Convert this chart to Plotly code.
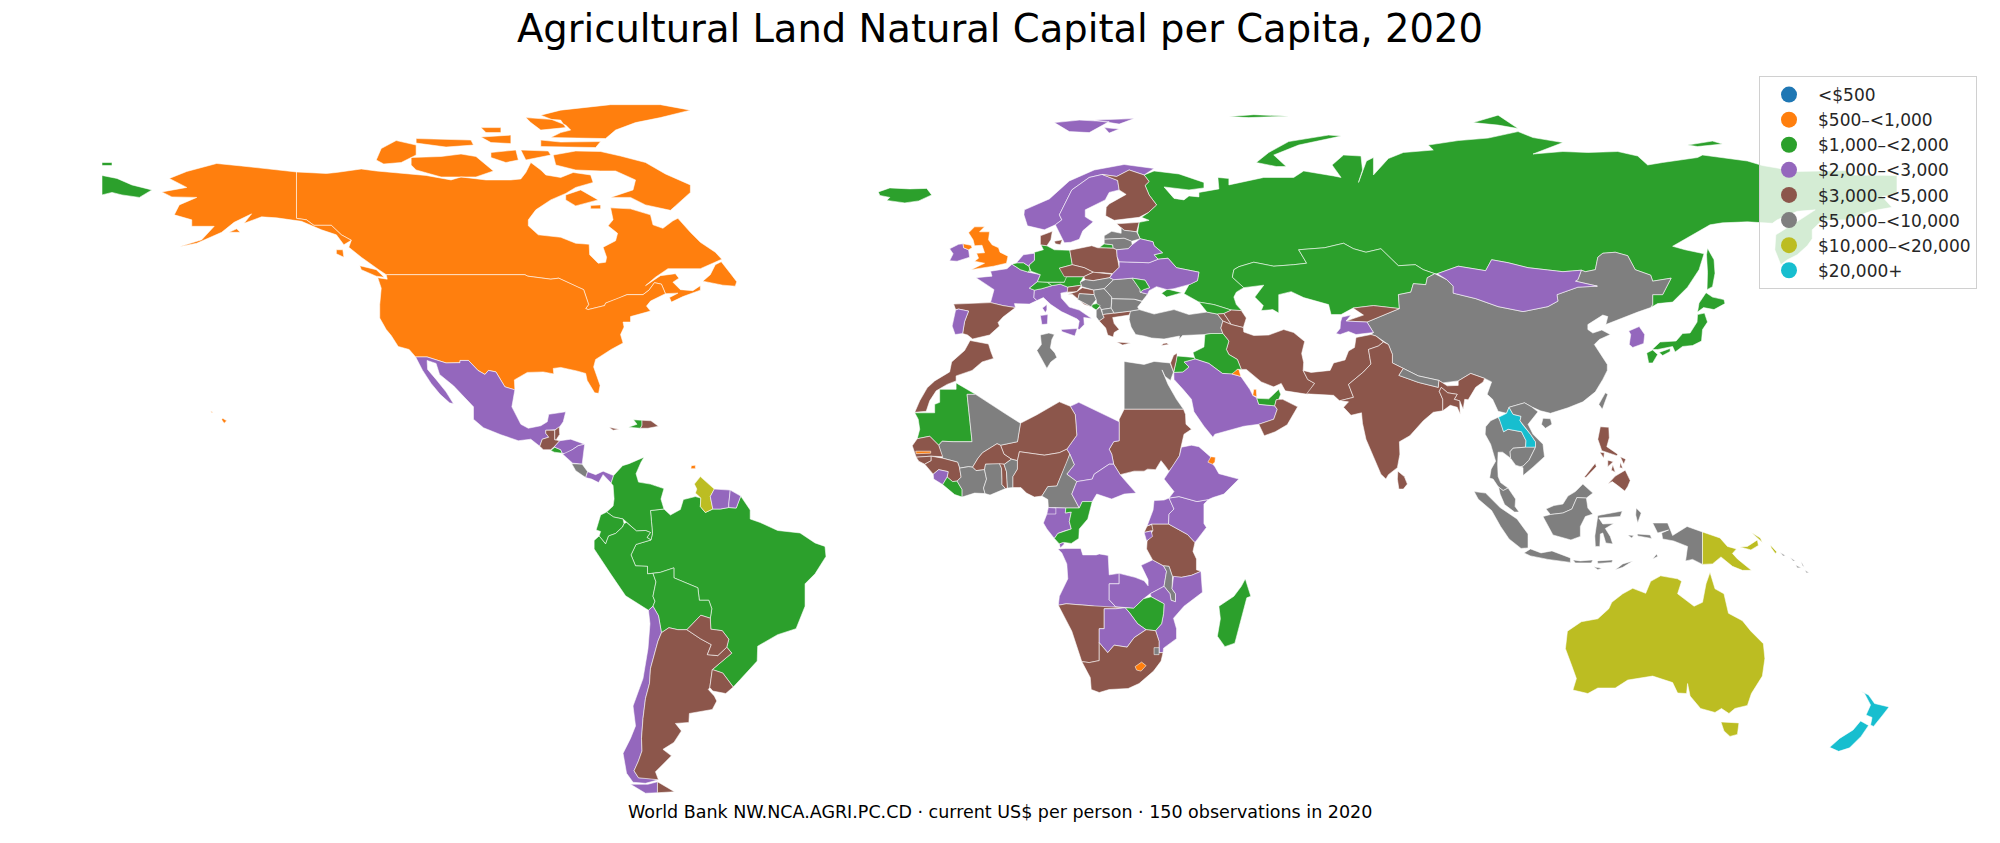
import plotly.graph_objects as go

title = "Agricultural Land Natural Capital per Capita, 2020"
source = "World Bank NW.NCA.AGRI.PC.CD · current US$ per person · 150 observations in 2020"

bin_labels = ["<$500", "$500–<1,000", "$1,000–<2,000", "$2,000–<3,000", "$3,000–<5,000",
              "$5,000–<10,000", "$10,000–<20,000", "$20,000+"]
bin_colors = ["#1f77b4", "#ff7f0e", "#2ca02c", "#9467bd", "#8c564b", "#7f7f7f", "#bcbd22", "#17becf"]

# which band each country falls in
bin_members = {
    "<$500": [],
    "$500–<1,000": ["USA", "CAN", "GBR", "QAT", "KWT", "DJI", "LSO", "GMB", "TTO"],
    "$1,000–<2,000": ["RUS", "KAZ", "BRA", "COL", "ECU", "PER", "BOL", "MRT", "LBR", "COG", "ZWE", "MDG",
                      "JPN", "ISL", "DEU", "BEL", "LUX", "CHE", "AUT", "MDA", "MNE", "GEO", "IRQ", "JOR",
                      "ARE", "SLV", "HTI"],
    "$2,000–<3,000": ["MEX", "HND", "NIC", "PAN", "SUR", "GUF", "CHL", "FRA", "ITA", "NLD", "IRL", "PRT",
                      "NOR", "SWE", "BLR", "UKR", "SAU", "TJK", "MNG", "KOR", "TCD", "CAF", "GAB", "GNQ",
                      "SLE", "ETH", "UGA", "KEN", "BDI", "AGO", "ZMB", "MOZ", "BWA"],
    "$3,000–<5,000": ["GTM", "BLZ", "JAM", "DOM", "ARG", "PRY", "URY", "ESP", "DNK", "FIN", "EST", "POL",
                      "CZE", "SVK", "SVN", "HRV", "GRC", "CYP", "MAR", "SEN", "GNB", "GIN", "BFA", "TGO",
                      "NGA", "NER", "SDN", "RWA", "TZA", "NAM", "ZAF", "ISR", "ARM", "AZE", "IRN", "OMN",
                      "KGZ", "PAK", "IND", "BGD", "LKA", "PHL"],
    "$5,000–<10,000": ["CRI", "LVA", "LTU", "HUN", "ROU", "BGR", "SRB", "BIH", "ALB", "MKD", "TUR", "TUN",
                       "EGY", "MLI", "CIV", "GHA", "BEN", "CMR", "MWI", "SWZ", "CHN", "TWN", "NPL", "THA",
                       "KHM", "VNM", "MYS", "IDN", "SLB"],
    "$10,000–<20,000": ["GUY", "AUS", "PNG"],
    "$20,000+": ["NZL", "LAO"],
}

# country outlines as "lon,lat lon,lat ..." rings, traced by eye; big neighbours first, enclaves last
outlines = {
    "RUS": ["31,69.8 33,69.5 36,69.2 41,67.5 41,66.4 38,66 33,66.6 35,64.3 37,64 38,64.8 40,64.6 40,65.5 44,66.2 43.8,68.5 46,68.3 46,67 53,68.5 59,68.5 61,69.8 67,68.8 68.5,68.5 66.7,71 69,73 72.5,72.8 72.8,70 72,67.5 73.6,71.8 75,72.5 75,69 78,72.3 81,73.5 87,74 86,75 92,75.9 98,76.4 104,77.7 107,76.5 113,75.5 107,73.2 113,73.7 118,73.5 124,73.7 128,72.8 130,71 133,71.5 140,72.5 141,73 150,71.8 153,70.9 160,69.7 170,69.9 171,69 180,68.9 180,65 177,64.7 179,62.5 175,61.8 170,60 165,59.9 163,58 163,56.2 162,54.8 160,53 158,52 156.7,51 155.5,54 155.7,57 161,60.3 163.6,62 160,61.7 156,60 155,59.3 150,59.6 145,59.4 142.5,59 135,54.7 137.5,54 141.3,53.2 140.3,50 138,46.5 135,43.5 132,43.2 131,42.6 130.6,42.4 131,43 131,45 133,45 134.7,48.3 131,47.7 130.6,48.9 127.5,50 126,52.8 123.5,53.5 121,53.3 120,52.5 119.5,50 117.5,49.6 116.7,49.9 113,49.6 106,50.4 102,51.4 98.7,52 97.5,49.8 92,50.7 87.8,49.2 87.3,49.2 85,50 83.4,51 80,50.8 77.8,53 76.5,54.2 73.5,53.5 71,54.2 69,55.3 65.2,54.4 60,54 60.9,52.5 61.6,51.3 59,51 55,50.7 51,51.5 48,50.6 47,50 46.7,48.5 49,46.4 47.5,45.5 47,44.5 47.5,43 48.6,41.8 46.5,41.9 43,43 40,43.5 37,45.2 38,47 39.7,47.8 40,49.5 35.5,50.4 33.8,52.3 31.8,52.1 31,53 32.7,53.4 31,54.8 30.8,55.6 28.2,56.2 27.7,57.4 28,59.5 30,59.9 28.5,60.5 29.9,61.5 31.5,63 30,65 29.2,66.9 30,67.7 29,69",
            "-180,68.9 -177,68.3 -174,67 -170,66 -172.5,64.5 -176,65 -178,65.5 -180,65",
            "-180,71.5 -178,71.5 -178,70.9 -180,70.9",
            "142,54.3 143.3,52 143.5,49.3 143,46.6 141.9,46 142,49.5 141.8,53",
            "51.5,71.5 55.5,70.7 57.5,70.7 55,73 60,75 68.5,76.8 66,77 58,75.7 54,73.5",
            "95,79.5 100,79 104,78.3 100,81",
            "46,80.7 51,81.1 58,80.8 50,80.5",
            "138,75 143,75.8 145,75.2 140,74.7",
            "20,54.4 22.8,54.3 22.7,55 21,55.2",
            "32.5,45.3 33.7,46.1 36.6,45.4 35,44.9 33.5,44.5"],
    "KAZ": ["47,50 48,50.6 51,51.5 55,50.7 59,51 61.6,51.3 60.9,52.5 60,54 65.2,54.4 69,55.3 71,54.2 73.5,53.5 76.5,54.2 77.8,53 80,50.8 83.4,51 85,50 87.3,49.2 85.8,48.4 85.5,47 83,47.2 82.5,45.5 80,45 80.2,42.2 75,42.8 70.9,42.3 68.5,41 66.5,41 66,43 61,44.4 58.5,45.6 56,45 56,41.3 54.8,42 52.5,41.8 52.9,42.8 51.2,44.5 53,46.9 49,46.4 46.7,48.5"],
    "CHN": ["73.7,39.5 76,40.4 80.2,42.2 80,45 82.5,45.5 83,47.2 85.5,47 85.8,48.4 87.3,49.2 89.7,48 91,46.7 91,45.3 95.5,44.2 100,42.6 105,41.6 110,42.6 112,43.7 111.8,45 116,46.5 119.9,46.7 115.5,47.7 116,48 116.7,49.9 117.5,49.6 119.5,50 120,52.5 121,53.3 123.5,53.5 126,52.8 127.5,50 130.6,48.9 131,47.7 134.7,48.3 133,45 131,45 131,43 130.6,42.4 128,41.5 124.3,40 121.6,39 122,40.6 121,40.9 118,39 118,38 119,37.3 120.8,37.9 122.5,37 120.3,36 119.3,35 120.8,32.6 121.9,31 121.9,29.8 121,28 119.5,25.5 117,23.5 114,22.3 110.5,21.2 108.5,21.7 106.7,22.5 105.3,23.3 102.2,22.4 101.7,21.2 100,21.6 98.9,24 97.8,25 98.7,27.5 97.3,28.2 94.5,29.2 92,27.7 88.9,27.3 88.1,27.8 84,28.7 81,30.2 78.8,31.3 78.8,33 78,35 75.5,36.7 74.5,37 75,37.4",
            "109,20.2 110.5,20.1 110.8,19 109.5,18.2 108.7,19"],
    "MNG": ["87.8,49.2 92,50.7 97.5,49.8 98.7,52 102,51.4 106,50.4 113,49.6 116.7,49.9 116,48 115.5,47.7 119.9,46.7 116,46.5 111.8,45 112,43.7 110,42.6 105,41.6 100,42.6 95.5,44.2 91,45.3 91,46.7 89.7,48"],
    "CAN": ["-141,69.6 -135,69.3 -133,69.5 -128,70.2 -125,69.8 -120,69.4 -115,68.9 -110,68 -108,68.6 -103,68 -98,68 -96,68.2 -95,69.5 -94,71.5 -92,70 -91,69 -88,68.5 -85.5,69.5 -82,69 -81.5,67.5 -85,66.5 -87,65.3 -90,64 -93,62 -94.5,60 -94.5,58.8 -92.5,57 -88,56.5 -85,55.3 -82.3,55.1 -82.2,53 -80.5,51.3 -79,51.5 -78.8,52.5 -79.5,54.5 -77,55.8 -76.6,57.3 -78.5,58.8 -77.5,60 -78,62.4 -74,62.2 -70,61 -69.5,59 -67.5,58.3 -65.5,59.8 -64.5,60.3 -62,57.5 -60,55.5 -57,53.5 -55.7,52.1 -60,50.2 -66.5,50.2 -69,48.5 -71,46.8 -68,48.8 -65,49.2 -64.3,48.3 -65.5,47.5 -64,46 -61.5,45.8 -60,46.8 -60,45.9 -63.5,44.6 -65.8,43.5 -66.2,44.4 -64.5,45.3 -67,45.2 -67.8,47.1 -69.2,47.4 -70.3,45.9 -71.5,45 -74.7,45 -76.5,44.2 -79,43.3 -79.2,42.8 -82.5,42 -83,42.2 -82.4,43 -83.4,46 -84.6,46.5 -88.4,48.3 -90,48.1 -94.6,48.7 -95.2,49 -123,49 -124.5,50 -128,52.5 -130.5,54.5 -130,55.9 -132,57 -134,58.9 -137.5,58.9 -139,60 -141,60.3",
            "-80,73.7 -76,72.8 -71,71.5 -67,69.2 -62,67 -62,65.5 -65,62.8 -66,61.9 -71,63 -74,64.5 -78,64.5 -73.5,66 -73,68 -77,69.8 -80,69.8 -85,70 -89,71 -89.5,73 -85,73.8",
            "-117,70 -112,68.6 -105,68.6 -101.5,69.8 -105,72.7 -108,73.2 -112,72.7 -118,72.5 -118,71",
            "-125,72 -123.5,71.2 -120,71.5 -117,73 -117,75 -121,75.9 -124,74.3",
            "-90,76.5 -79,76.3 -77,78 -73,79.5 -68,80.5 -62,82 -68,83.1 -78,83.1 -88,82 -92,81 -87,79 -86,78 -88,77.5",
            "-92,76 -92,74.7 -81,74.5 -80,75.7 -88,75.6",
            "-95,80.5 -88,80 -87,78.5 -92,78 -94,79.5",
            "-117,76.3 -106,76 -105.5,75 -111,74.6 -117,75.4",
            "-96,74 -90.5,73.8 -90,73 -95,72",
            "-102,73.5 -97,74 -96.5,72 -99,71.5 -102,72.5",
            "-104,76.6 -98,77 -98,75.3 -102,75.5",
            "-104,78.5 -100,78.5 -100,77.5 -103,77.5",
            "-87,65 -84,66 -80.5,64 -85,62.8 -87,64",
            "-59.5,47.7 -55.5,46.9 -53,46.7 -52.7,47.6 -54,49.3 -55.8,51.6 -57,51 -58,49",
            "-128.3,50.8 -125,50 -123.4,48.5 -125,48.7 -128,50",
            "-133,54 -131.7,54 -131.5,52.5 -133,53.2",
            "-82,62.9 -80,63 -80,62.2 -82,62.2"],
    "USA": ["-123,49 -95.2,49 -94.6,48.7 -90,48.1 -88.4,48.3 -84.6,46.5 -83.4,46 -82.4,43 -83,42.2 -82.5,42 -79.2,42.8 -79,43.3 -76.5,44.2 -74.7,45 -71.5,45 -70.3,45.9 -69.2,47.4 -67.8,47.1 -67,45.2 -70,43.7 -70.8,42.7 -70,41.7 -74,40.6 -74,39.5 -75.5,39.5 -75.3,38.5 -76,37 -75.5,35.3 -77.9,34 -81,32 -81.4,30.5 -80.1,26.8 -80.4,25.2 -81.2,25.3 -82.7,27.8 -83,29.2 -84.8,29.7 -88,30.4 -89.5,30.2 -89.4,29.1 -91.5,29.5 -94.7,29.4 -97.3,27.9 -97.2,25.9 -99.2,26.5 -101,29.5 -102.5,29.8 -103.2,29 -104.6,29.8 -106.5,31.8 -108.2,31.8 -108.2,31.35 -111,31.3 -114.8,32.5 -117.1,32.5 -118.4,34 -120.6,34.6 -122,36.8 -123,38 -124.3,40.3 -124.3,43 -124,46.3 -124.7,48.4 -122.8,48.1",
            "-141,69.6 -141,60.3 -139,60 -137.5,58.9 -134,58.9 -132,57 -130,55.9 -131.5,55 -133,57 -136,58 -140,59.7 -145,60.4 -148,60.6 -151.5,59.3 -150,61.2 -153.5,59.5 -156,57.5 -161,55.3 -164.5,54.6 -160,56 -157.5,58.7 -162,58.7 -162,60 -165.5,61 -164.5,63 -161,64.5 -166,64.6 -168,65.6 -163,66.5 -166.5,68.3 -163,69.7 -157,71.3 -152,70.8 -145,70",
            "-154.5,57.5 -152.3,57.5 -153,58.2",
            "-156,19.9 -155.5,19.2 -155,19.7 -155.8,20.2",
            "-158.2,21.6 -157.7,21.4 -158,21.3"],
    "MEX": ["-117.1,32.5 -114.8,32.5 -111,31.3 -108.2,31.35 -108.2,31.8 -106.5,31.8 -104.6,29.8 -103.2,29 -102.5,29.8 -101,29.5 -99.2,26.5 -97.2,25.9 -97.8,22.5 -96,19 -94.5,18.2 -92,18.7 -90.7,19.5 -90.4,21 -87,21.5 -87.5,19.5 -88.2,18.5 -89.1,17.9 -91,17.8 -91,17.2 -90.4,16.4 -91.7,16 -92.2,14.6 -94,16 -96.5,15.7 -100,16.9 -103.5,18.3 -105.5,20 -105.5,22.5 -108,25 -109.5,26.7 -112.3,29 -113,31.2 -114.8,31.8 -114.7,30 -113,28 -111,25.5 -109.5,23.1 -110.3,23.3 -112.2,25 -114,27.2 -115.7,29.8"],
    "GTM": ["-92.2,14.6 -91.7,16 -90.4,16.4 -91,17.2 -91,17.8 -89.2,17.8 -89.2,15.9 -88.2,15.7 -89.2,14.6 -90,13.9 -91.5,13.9"],
    "BLZ": ["-89.2,17.8 -88.3,18.5 -88.2,17 -88.9,15.9 -89.2,15.9"],
    "SLV": ["-90,13.75 -89.2,14.4 -88,13.9 -87.7,13.2 -89.3,13.4"],
    "HND": ["-89.2,14.6 -88.2,15.7 -86,16 -83.2,15 -84.5,14.7 -85.7,13.9 -87,13 -87.7,13.2 -88,13.9 -89.2,14.4"],
    "NIC": ["-87.6,13 -85.7,13.9 -84.5,14.7 -83.2,15 -83.7,11 -85.6,11.2"],
    "CRI": ["-85.8,11.1 -83.7,11 -82.6,9.5 -83,8.3 -85,9.7"],
    "PAN": ["-83,8.3 -82.6,9.5 -81,8.9 -79.5,9.6 -77.4,8.7 -77.9,7.2 -79.5,8.9 -80.4,7.3 -81.8,8"],
    "HTI": ["-74.4,18.4 -72,18.2 -71.7,18.8 -71.7,19.8 -73.4,19.9 -72.7,19"],
    "DOM": ["-71.7,19.8 -71.7,18.8 -72,18.2 -70.5,18.2 -68.4,18.6 -69.9,19.7"],
    "JAM": ["-78.3,18.4 -76.3,18 -77.5,17.8"],
    "TTO": ["-61.9,10.1 -61,10.1 -61,10.8 -61.8,10.7"],
    "BRA": ["-51.9,4.6 -50,1.8 -50,0 -48,-0.7 -44.5,-2.3 -40,-2.8 -37,-4.8 -35,-5.5 -34.8,-7.5 -37,-11 -39,-13 -39,-17.5 -40.8,-22 -44.5,-23.2 -48.5,-25.5 -48.6,-28.5 -52,-32.2 -53.4,-33.7 -55.5,-30.9 -57.6,-30.2 -53.7,-26.9 -54.7,-25.7 -54.3,-24.1 -55.6,-22.4 -57.9,-22.1 -58,-19.9 -57.7,-18 -58.3,-16.3 -60.2,-16.3 -60.5,-13.8 -65.3,-11.8 -65.3,-9.8 -68,-10.7 -69.5,-10.9 -70.6,-11 -70.6,-9.5 -73,-9.4 -73.9,-7.2 -72.9,-5.1 -69.9,-4.2 -69.6,-2.9 -69.8,-0.5 -70,1.7 -67.3,2 -66,0.8 -64,1.9 -63.4,3.9 -61,4.5 -59.9,4.2 -60,2.5 -59,1.3 -57.5,2 -56,2 -54.3,2.3 -52.8,2.2"],
    "COL": ["-77.4,8.7 -75.6,10.7 -74.3,11.1 -71.3,12.4 -71.9,11.4 -72.9,9.1 -72.4,7.4 -70,7 -67.3,6.1 -67.9,4 -67.3,2 -70,1.7 -69.8,-0.5 -69.6,-2.9 -69.9,-4.2 -70.7,-3.7 -70,-2.7 -71,-2.3 -72.8,-2.4 -74.8,-0.7 -75.5,0 -77.4,0.4 -78.8,1.4 -77.5,2.6 -77.3,4 -77.5,6.7 -77.9,7.2"],
    "ECU": ["-78.8,1.4 -77.4,0.4 -75.5,0 -75.3,-0.9 -75.6,-1.6 -77,-2.9 -78.4,-3.4 -79,-5 -80.3,-3.4 -80,-2.5 -80.9,-2.2 -80,0.8"],
    "PER": ["-80.3,-3.4 -79,-5 -78.4,-3.4 -77,-2.9 -75.6,-1.6 -75.3,-0.9 -74.8,-0.7 -72.8,-2.4 -71,-2.3 -70,-2.7 -70.7,-3.7 -69.9,-4.2 -72.9,-5.1 -73.9,-7.2 -73,-9.4 -70.6,-9.5 -70.6,-11 -69.5,-10.9 -68.9,-12.6 -69.5,-15.5 -69.1,-16.5 -69.5,-17.5 -70.4,-18.3 -75,-15.4 -78,-11 -81.3,-6 -81.3,-4.3"],
    "BOL": ["-69.5,-10.9 -68,-10.7 -65.3,-9.8 -65.3,-11.8 -60.5,-13.8 -60.2,-16.3 -58.3,-16.3 -57.7,-18 -58,-19.9 -59.9,-19.3 -62.7,-22.2 -64.5,-22.2 -66.3,-21.8 -67.8,-22.8 -68.4,-19.4 -69.5,-17.5 -69.1,-16.5 -69.5,-15.5 -68.9,-12.6"],
    "CHL": ["-69.5,-17.5 -68.4,-19.4 -67.8,-22.8 -68.5,-24.5 -70,-30 -70.2,-33 -71,-36 -71.5,-40 -71.8,-44 -71.7,-46.5 -72.4,-48.5 -73.3,-50.5 -72.4,-51.9 -70,-52 -68.4,-52.3 -71,-53 -73.5,-52.8 -74.8,-51 -75.5,-47 -74,-44 -73,-41.5 -73.5,-37.5 -71.5,-32 -70.5,-26 -70.1,-21 -70.4,-18.3",
            "-68.6,-52.7 -68.6,-54.9 -71,-55 -74,-53.2 -70.5,-53.2"],
    "ARG": ["-66.3,-21.8 -64.5,-22.2 -62.7,-22.2 -60,-24 -57.8,-25.2 -58.6,-27.2 -56.5,-27.4 -54.7,-25.7 -53.7,-26.9 -57.6,-30.2 -58.1,-33.8 -58.4,-34.2 -57.2,-35.5 -56.7,-36.5 -57.6,-38.2 -62.2,-39 -62.3,-40.8 -65,-41 -63.8,-42.5 -65.3,-44.8 -67.5,-46.2 -65.8,-47.5 -69,-50.7 -68.4,-52.3 -72.4,-51.9 -73.3,-50.5 -72.4,-48.5 -71.7,-46.5 -71.8,-44 -71.5,-40 -71,-36 -70.2,-33 -70,-30 -68.5,-24.5 -67.8,-22.8",
            "-68.6,-52.7 -65.2,-54.7 -68.6,-54.9"],
    "PRY": ["-62.7,-22.2 -59.9,-19.3 -58,-19.9 -57.9,-22.1 -55.6,-22.4 -54.3,-24.1 -54.7,-25.7 -56.5,-27.4 -58.6,-27.2 -57.8,-25.2 -60,-24"],
    "URY": ["-58.1,-33.8 -57.6,-30.2 -55.5,-30.9 -53.4,-33.7 -54.9,-35 -57.5,-34.5"],
    "GUY": ["-60,8.5 -57.2,6 -58,4.5 -57.5,2 -59,1.3 -60,2.5 -59.9,4.2 -61,5.2 -60.7,6 -61.2,7"],
    "SUR": ["-57.2,6 -54,5.8 -54.3,3 -54.3,2.3 -56,2 -57.5,2 -58,4.5"],
    "GUF": ["-54,5.8 -51.9,4.6 -52.8,2.2 -54.3,2.3 -54.3,3"],
    "MAR": ["-5.9,35.8 -2.2,35.1 -1.7,33.5 -1.2,32.2 -3.5,31.5 -5.5,29.8 -8.7,28.7 -8.7,27.7 -10.5,27 -12.7,25.7 -14,23.7 -14.7,21.6 -17,21.4 -16,23.7 -14.5,26.3 -13,27.7 -10,29.5 -9.6,31.5 -7,33.8"],
    "MRT": ["-8.7,27.3 -4.8,25 -6.5,25 -5.5,15.5 -9.3,15.5 -11.5,15.6 -12.2,14.8 -14,16.6 -16.5,16.1 -16,18 -16.3,20 -17,21.3 -13,21.3 -13,23 -12,23.4 -12,26 -8.7,26"],
    "TUN": ["8.2,36.9 9.9,37.3 11,37 10.5,36 10.2,34.3 11.1,33.3 11.5,32.4 10.3,31.5 9.5,30.2 7.5,33.8 8.4,35"],
    "EGY": ["25,31.6 29,31 31,31.6 34.2,31.3 34.9,29.5 34.3,27.8 33.2,28.6 32.6,29.9 33.8,27 35.5,24 36.9,22 31.4,22 25,22"],
    "SDN": ["25,22 36.9,22 37.3,21 37.4,19 38.5,18 37,17 36.4,14.4 36.1,12.7 34.9,10.8 34,9.6 33.2,10.7 32.4,11.7 31.3,9.9 29.7,10 29,9.6 27,9.6 24.2,8.9 23.5,10.1 22.9,11 22.5,13 22,14 22.9,15.5 24,15.7 24,20"],
    "TCD": ["24,19.5 15.9,23.4 14.2,22.6 15.2,20.9 15.5,16.8 13.5,14 14.1,13 15,10.9 13.5,9 15.5,7.5 18.6,8 19,9 22,11 22.9,11 22.5,13 22,14 22.9,15.5 24,15.7"],
    "NER": ["3.6,15.5 4.2,19.2 7.5,20.9 12,23.5 14.2,22.6 15.2,20.9 15.5,16.8 13.5,14 12,13.3 9,12.8 6.8,13.1 4,13.5 3.6,11.7 2.4,12 0.9,13 0.2,14.8"],
    "MLI": ["-12.2,14.8 -11.5,15.6 -9.3,15.5 -5.5,15.5 -6.5,25 -4.8,25 1.2,21.1 3.2,19.8 4.2,19.2 3.6,15.5 0.2,14.8 -0.5,15.1 -2,14.2 -3.4,13.3 -4.3,12.2 -5.4,10.4 -6.2,10.5 -8,10.2 -8.4,11.4 -11.4,12.2"],
    "BFA": ["-5.4,10.4 -4.3,12.2 -3.4,13.3 -2,14.2 -0.5,15.1 0.2,14.8 0.9,13 2.4,12 1,11 -2.8,11 -3,9.9 -4.7,9.7"],
    "SEN": ["-16.5,16.1 -14,16.6 -12.2,14.8 -11.4,12.5 -13.7,12.6 -16.7,12.4 -17.5,14.7"],
    "GNB": ["-16.7,12.4 -13.7,12.6 -13.7,11.7 -15,11 -16.2,11.6"],
    "GIN": ["-13.7,12.6 -11.4,12.2 -8.4,11.4 -8,10.2 -7.7,8.4 -8.5,7.6 -9.4,7.5 -10.5,8.4 -10.3,9.5 -12.2,9.9 -13.3,9 -15,11 -13.7,11.7"],
    "SLE": ["-13.3,9 -12.2,9.9 -10.3,9.5 -10.5,8.4 -11.4,6.9 -13.2,8"],
    "LBR": ["-11.4,6.9 -10.5,8.4 -9.4,7.5 -8.5,7.6 -7.5,5.9 -7.5,4.4 -9,4.9"],
    "CIV": ["-8.5,7.6 -7.7,8.4 -8,10.2 -6.2,10.5 -5.4,10.4 -4.7,9.7 -3,9.9 -2.6,8 -3.2,6.2 -2.9,5.1 -5,5.2 -7.5,4.4 -7.5,5.9"],
    "GHA": ["-3,9.9 -2.8,11 0,11.1 0.4,10.2 0.5,8 0.5,6.9 1.2,6.1 -1.9,4.8 -2.9,5.1 -3.2,6.2 -2.6,8"],
    "TGO": ["0,11.1 0.9,11 1.4,9.5 1.6,6.2 1.2,6.1 0.5,6.9 0.5,8 0.4,10.2"],
    "BEN": ["0.9,11 1,11 2.4,12 3.6,11.7 3.6,10 2.7,8.5 2.7,6.3 1.6,6.2 1.4,9.5"],
    "NGA": ["2.7,6.3 2.7,8.5 3.6,10 3.6,11.7 4,13.5 6.8,13.1 9,12.8 12,13.3 13.5,14 14.1,13 13.6,11.5 12.3,8.5 11.5,6.6 9.7,6.5 8.5,4.6 7,4.4 5.4,5.2 4.3,6.3"],
    "CMR": ["8.5,4.6 9.7,6.5 11.5,6.6 12.3,8.5 13.6,11.5 14.1,13 15,10.9 13.5,9 15.5,7.5 14.5,5 15.1,3.9 16,2.2 13.3,2.2 9.8,2.3 9.7,3.9"],
    "CAF": ["15.5,7.5 18.6,8 19,9 22,11 22.9,11 23.5,10.1 24.2,8.9 25.2,7.7 27.4,5.2 25,5 22.5,4 19.5,5 18.6,3.5 16.6,3.5 16,2.2 15.1,3.9 14.5,5"],
    "GAB": ["9.8,2.3 13.3,2.2 13.2,1.2 14.4,1.4 14,-0.5 14.4,-2 13,-2.4 11.7,-2.9 11,-3.9 9.5,-2 8.8,-0.8 9.5,1"],
    "GNQ": ["9.8,2.3 11.3,2.2 11.3,1 9.5,1"],
    "COG": ["16,2.2 16.6,3.5 18.6,3.5 17.7,0 16,-2 15.9,-3.9 14.4,-4.9 13,-4.7 12,-5 11,-3.9 11.7,-2.9 13,-2.4 14.4,-2 14,-0.5 14.4,1.4 13.2,1.2 13.3,2.2"],
    "AGO": ["11.7,-6 13.3,-5.9 16.3,-5.9 16.7,-7.2 19.4,-7.2 20,-7 21.8,-7.3 21.9,-9.4 22,-11.2 24,-10.9 24,-13 22,-13 22,-16.2 23.3,-17.6 21,-18 18.5,-17.4 13.4,-17 11.8,-17.3 12,-15.5 13.7,-12 13.5,-9 12.5,-6.8",
            "12,-5 12.8,-4.7 13,-5 12.2,-5.8"],
    "ZMB": ["24,-10.9 25.4,-11.3 27.2,-11.7 29,-12.4 29.8,-13.4 29.8,-12.2 28.4,-9.3 30.7,-8.2 32.9,-9.4 33.5,-10.5 33,-13.5 30.2,-15 28.9,-16 26.9,-17.9 25.2,-17.8 23.3,-17.6 22,-16.2 22,-13 24,-13"],
    "TZA": ["30.5,-1 33.9,-1 37.7,-3.1 39.2,-4.7 38.8,-6.5 39.5,-8 39.5,-10.2 40.4,-10.5 38.5,-11.3 36.5,-11.7 34.7,-11.6 34,-9.5 32.9,-9.4 30.7,-8.2 29.5,-6 29.6,-4.5 30.7,-2.4"],
    "RWA": ["29,-2.7 29.6,-1.4 30.5,-1.1 30.8,-2.3 30.3,-2.4"],
    "BDI": ["29,-2.7 30.4,-2.4 30.7,-3.5 29.5,-4.4"],
    "UGA": ["29.6,-1.4 30.5,-1 33.9,-1 34,1 35,2 34,4.2 33,3.8 31,3.7 30.8,1.8"],
    "KEN": ["33.9,-1 37.7,-3.1 39.2,-4.7 41.5,-1.7 41,-0.9 41,3 41.9,3.9 39.6,3.5 36,4.5 34,4.2 35,2 34,1"],
    "ETH": ["34,4.2 36,4.5 39.6,3.5 41.9,3.9 42.8,4.3 45,5 48,8 44,9.1 43.2,10.5 42.8,11 42.4,12.4 40,14.5 38.5,14.8 36.5,14.4 36.1,12.7 34.9,10.8 34,9.6 33,8 35,5.5"],
    "DJI": ["42.4,12.5 43.3,12.4 43.2,11.4 42.7,11 41.8,11.4"],
    "MWI": ["32.9,-9.4 34,-9.5 34.7,-11.6 34.6,-14 35.3,-15 35.3,-16.6 34.4,-16.3 34.2,-15 33,-13.5 33.5,-10.5"],
    "MOZ": ["34.9,-11.5 36.5,-11.7 38.5,-11.3 40.4,-10.5 40.7,-14.7 37,-17.5 34.9,-19.9 35.5,-22 35.5,-24 32.9,-25.9 32.8,-26.8 32,-26.8 32,-24.5 31.3,-22.4 32.5,-21 32.9,-19 33,-17 30.4,-15.6 30.2,-15 33,-13.5 34.2,-15 34.4,-16.3 35.3,-16.6 35.3,-15 34.6,-14"],
    "ZWE": ["25.2,-17.8 26.9,-17.9 28.9,-16 30.4,-15.6 33,-17 32.9,-19 32.5,-21 31.3,-22.4 29.4,-22.2 27.7,-21 26,-18.7"],
    "NAM": ["11.8,-17.3 13.4,-17 18.5,-17.4 23.3,-17.6 25.2,-17.8 23.3,-18 21,-18 21,-22 20,-22 20,-28.4 18,-28.8 16.5,-28.6 14.5,-22.5"],
    "BWA": ["21,-18 23.3,-18 25.2,-17.8 26,-18.7 27.7,-21 29.4,-22.2 27,-23.8 25.6,-25.7 23,-25.3 21.7,-26.8 20,-24.8 20,-22 21,-22"],
    "ZAF": ["16.5,-28.6 18,-28.8 20,-28.4 20,-24.8 21.7,-26.8 23,-25.3 25.6,-25.7 27,-23.8 29.4,-22.2 31.3,-22.4 32,-24.5 32,-26.8 32.8,-26.8 32.4,-28.5 30.9,-30.5 28,-33 25.8,-34 22,-34.2 20,-34.8 18.4,-34.2 18.2,-31.8"],
    "SWZ": ["31,-25.8 32,-25.8 32,-27.2 31,-27.2"],
    "LSO": ["27.2,-29.6 28.5,-28.7 29.4,-29.4 28.4,-30.5 27.5,-30.3"],
    "GMB": ["-16.8,13.6 -13.8,13.6 -13.8,13.2 -16.7,13.1"],
    "MDG": ["49.3,-12 50.4,-15.5 49.6,-15.8 47.2,-24.9 45.2,-25.6 43.7,-23.5 44.3,-20 44,-17.5 47,-15.5 48.5,-13.5"],
    "TUR": ["26,40 26.2,41.7 28,42 31,41.1 35,42 38,41 41.6,41.5 43.7,41.1 44.8,39.7 44.4,38.3 44.8,37.2 42.4,37.2 41.2,37 38,36.8 36.7,36.8 36,36 36.1,36.7 33,36.1 30.5,36.3 29,36.7 27.3,37 26.4,38.5"],
    "CYP": ["32.4,34.8 34,35 33.5,35.3 32.9,35.2"],
    "GEO": ["40,43.5 43,43 46.5,41.9 45,41.2 43.7,41.1 41.6,41.5"],
    "ARM": ["43.7,41.1 45,41.2 45.5,40.5 46.5,39 44.8,39.7"],
    "AZE": ["45,41.2 46.5,41.9 48.5,41.8 49.5,40.3 48.9,38.4 46.5,39 45.5,40.5"],
    "IRN": ["44.8,39.7 44.4,38.3 44.8,37.2 46,35.7 45.5,34 46,33 47.7,32 48.5,30 49.5,30 50.8,28.9 52.5,27.5 55,26.5 56.5,27.2 57.3,25.7 61.5,25.1 61.8,25 63.2,27.2 61.8,28 60.9,29.8 61,31.4 60.6,33.2 61.2,35.6 59,37.4 57,38 54,36.9 51,36.8 49,37.5 48.9,38.4 46.5,39"],
    "IRQ": ["38.8,33.4 41,34.5 41.2,37 42.4,37.2 44.8,37.2 46,35.7 45.5,34 46,33 47.7,32 48.5,30 47.7,30 47,29 44.7,29.2 42,31.2 39.2,32.1"],
    "SAU": ["36.8,29.5 38,30.5 37,31.5 39.2,32.1 42,31.2 44.7,29.2 46.6,29.1 48.4,28.6 50.2,26 50.8,24.8 51.6,24.3 52,23 55.2,22.7 55.7,22 55,20 52,19 49,18.6 45,17.4 43.2,17 42.8,16.4 41,18.6 39,21.5 38.5,24 36.8,26 35,28 34.95,29.4"],
    "JOR": ["34.95,29.4 35.4,31.5 35.6,32.7 39,32.4 39.2,32.1 37,31.5 38,30.5 36.8,29.5"],
    "ISR": ["34.3,31.3 34.9,32.8 35.6,33.3 35.6,32.7 35.4,31.5 34.9,29.5"],
    "KWT": ["46.6,29.1 48.4,28.6 48,30 47.7,30"],
    "QAT": ["50.8,24.8 51.6,24.5 51.5,26 51,26"],
    "ARE": ["51.6,24.2 54,24.1 56,26 56.4,25 56,24 55.5,23.9 55.2,22.7 52,23"],
    "OMN": ["56,24 56.8,24 59.8,22.5 58.5,20.4 57.7,18.9 55.3,17.5 53.1,16.7 52,19 55,20 55.7,22 55.2,22.7 55.5,23.9"],
    "KGZ": ["70.9,42.3 75,42.8 80.2,42.2 76,40.4 73.7,39.5 69.5,39.7 71.7,40.4 73,40.9"],
    "TJK": ["67.5,37.2 68.3,38.2 68.4,39.5 68.7,40.5 70.5,40.9 69.5,39.7 73.7,39.5 75,37.4 71.5,37 70,37.6 68.3,37"],
    "PAK": ["60.9,29.8 62.5,29.4 66.3,29.8 67,31.3 69.3,31.9 70,33.7 71.2,34.4 71.5,36.4 74.5,37 75.5,36.7 77,35.5 76,34.7 74,34 74.5,31.1 73,29.5 70,27 71,24.4 68.2,23.7 67,24.8 61.6,25.1 63.2,27.2 61.8,28"],
    "IND": ["74.5,31.1 74,34 76,34.7 77,35.5 78,35 78.8,33 78.8,31.3 81,30.2 80.1,28.8 84,27.4 88,26.4 88.1,27.8 88.9,27.3 89.8,26.7 92,26.8 92,27.7 94.5,29.2 97.3,28.2 97,27.5 95.5,26.4 94,23.9 93.3,24 93,22 92.3,23.7 91.2,24 91.8,25 89.9,25.3 88.6,26.4 88.2,25.6 88.9,24 88.9,21.7 87,21.4 85,19.7 82.3,16.7 80.2,15.5 80.3,13 79.8,10.3 78,8.9 77.5,8 76.5,9 75,12.5 73.5,16 72.8,19.2 72.6,21.3 70.5,20.8 69,22.4 70,23.5 68.2,23.7 71,24.4 70,27 73,29.5"],
    "NPL": ["80.1,28.8 81,30.2 84,28.7 88.1,27.8 88,26.4 84,27.4"],
    "BGD": ["88.6,26.4 89.9,25.3 91.8,25 91.2,24 92.3,23.7 92.4,21 91.8,22.4 90.4,22.8 88.9,21.7 88.9,24 88.2,25.6"],
    "LKA": ["79.9,9.6 81.2,8.5 81.8,7 81,6 80.1,6 79.8,8"],
    "TWN": ["121.5,25.3 122,25 120.9,22 120.2,23"],
    "KOR": ["126.2,37.7 128.3,38.6 129.4,37 129.2,35.2 127,34.4 126.3,35 126.6,37"],
    "JPN": ["130.9,34 132.5,35.5 135.7,35.7 137,37.2 138.5,37.3 139.9,39.5 140,41 141.4,41.3 142,39.5 141,38 140.8,35.7 139,34.8 137,34.6 135.5,33.5 135,34.6 132,34",
            "140,41.5 140.3,43.3 141.7,45.4 143,44.5 145.3,44 145.5,43.2 143.3,42 141.2,42.4",
            "132.3,33.4 134.5,34.2 134.5,33.6 133,32.8",
            "129.8,33.3 131,33.9 132,33 131,31.3 130.2,31.3"],
    "THA": ["97.5,18.5 98.5,19.7 100,20.4 100.5,19.5 101.1,17.5 102,18 104.7,17.5 105.6,15.7 105.5,14.4 103,14.2 102.4,13.5 102.5,12.2 100.9,13.4 100,13.4 99.9,11 100,8.5 100.5,7.3 102,6.2 101,5.7 100,6.5 99,8 98.3,8.2 98.6,10 99.5,11.6 98.5,15 97.4,17"],
    "LAO": ["100.1,20.4 101.7,21.2 102.2,22.4 103,21 104.6,20.6 104.4,19.7 105,18.8 106.5,17 107.5,15.5 107.5,14.4 105.5,14.2 105.6,15.7 104.7,17.5 102,18 101.1,17.5 100.5,19.5"],
    "KHM": ["102.5,12.2 102.4,13.5 103,14.2 105.5,14.4 107.5,14.4 106.2,11.8 105,10.6 104.5,10.5 103.5,10.8"],
    "VNM": ["102.2,22.4 105.3,23.3 106.7,22.5 108,21.5 106,19 107,17 109,15 109.3,12.5 107,10.4 105,8.7 105,10.3 104.5,10.5 105,10.6 106.2,11.8 107.5,14.4 107.5,15.5 106.5,17 105,18.8 104.4,19.7 104.6,20.6 103,21"],
    "MYS": ["100.1,6.4 101,5.7 102,6.2 103.5,4 103.4,2.5 104.2,1.4 103.3,1.4 101.3,2.9 100.4,5",
            "109.6,2 111.2,2.7 113,3 114,4.6 115.5,5.5 117,7 119,5.2 117.7,4.2 115.8,4.3 114.8,2 113,1.2 110.5,0.9"],
    "IDN": ["109,0.5 110.5,0.9 113,1.2 114.8,2 115.8,4.3 117.7,4.2 118,2.2 119,1 117.5,0.5 116.5,-1.5 116.5,-3.5 114.6,-4.2 111,-3.2 110,-1.5",
            "95.2,5.5 97.5,5.2 100.4,2.3 103.8,0 106,-3 106,-5.8 104.6,-5.9 102.2,-4 100.5,-1.5 98.7,1.7 96,4",
            "105.2,-6.8 106.5,-6 108.6,-6.8 110.8,-6.4 114.5,-7.8 114.5,-8.7 110,-8.1 106.5,-7.4",
            "120,0.7 124.9,1.6 124.5,0.5 120.2,0.2 121,-1 123.2,-0.9 121.5,-1.9 122.5,-3.5 123,-5 121.6,-4.8 121,-2.8 120.5,-3 120.4,-5.5 119.5,-5.5 119.4,-3.4 119.8,-0.7",
            "127.7,2.2 128.7,1.2 128,-0.8 127.6,0.8",
            "127.9,-3 130.5,-3.2 130.8,-3.9 128,-3.4",
            "126,-3.2 127.2,-3.3 126.8,-3.8",
            "131,-0.8 134,-0.8 135,-3.3 137.9,-1.5 141,-2.6 141,-9.1 139,-8.1 137.6,-8.4 138,-5.5 135.2,-4.4 133,-4 132.8,-2.8 134.2,-2.2 132,-2.8",
            "115,-8.2 116.5,-8.4 119,-8.2 118.7,-8.8 115.5,-8.8",
            "119.9,-8.4 123,-8.2 122.8,-8.7 120,-8.9",
            "123.5,-10.2 125,-9 127,-8.4 125,-9.7",
            "119.2,-9.6 120.8,-9.9 120,-10.2",
            "131,-8 131.8,-7 132,-7.5"],
    "PHL": ["120.5,18.5 122.2,18.4 122.3,16.3 121.8,14.5 124,13 123.8,12.7 120.8,13.7 120,16",
            "122,7 123.5,8.6 125.5,9.8 126.5,7.7 126,6.5 125.4,5.6 124,6.7 122.9,7.5",
            "117.3,8.4 119.5,11.2 119.7,10.5 117.6,8.3",
            "124.5,12.5 125.6,12 125.2,11",
            "122,11.8 123.1,11.5 122,10.5",
            "123,10.9 123.5,9.4 122.7,9.8",
            "124.5,11.4 125,10.2 124.4,10.3",
            "120.4,13.4 121.3,13.3 121.2,12.2"],
    "PNG": ["141,-2.6 144.5,-3.8 146,-5.5 147.8,-6 147,-6.9 148,-8 150.8,-10.3 149,-10.3 147,-9.5 144.7,-7.6 143,-9 141,-9.1",
            "148.5,-5.6 150,-5.5 152,-4.2 152.2,-5.3 150.7,-6.2",
            "150.8,-2.7 152.6,-3.8 153,-4.7 151.5,-3.3",
            "154.6,-5.2 155.9,-6.6 155.6,-6.9 154.8,-5.8"],
    "SLB": ["156.6,-6.7 157.6,-7.3 157.2,-7.4", "158.6,-7.7 159.6,-8.4 159.2,-8.4",
            "159.7,-9.3 160.8,-9.8 160,-9.8", "160.8,-8.5 161.4,-9.7 161,-9.3", "161.6,-10.3 162.3,-10.8 161.8,-10.8"],
    "AUS": ["142.5,-10.7 143.5,-14 145.3,-15 146.2,-18.9 149,-20.4 150.7,-22.5 153.2,-25 153.5,-28 153,-31.5 150.8,-35 150,-37.4 147.5,-38 146.3,-39 144.8,-38 143.5,-38.8 140.6,-38 138.5,-35.5 138,-33 137.8,-35 136,-34.9 135,-32.8 131,-31.5 126,-32.3 123.5,-33.9 120,-33.9 118,-35 115,-34.3 115.7,-32 114.8,-29.5 113.5,-26 113.9,-22.5 116.7,-20.6 120,-20 122.2,-18 122.8,-16.7 125,-15 127,-13.9 129.6,-14.9 130.6,-12.5 132.6,-11.4 136,-12 136.8,-12.5 136,-15 139.3,-17.5 141,-16.7 141.7,-13",
            "144.7,-40.7 148.3,-40.9 148,-43.2 146.5,-43.6 145.3,-42.5"],
    "NZL": ["172.7,-34.5 174.3,-35.3 175.5,-37 178.4,-37.7 177,-39.5 175.3,-41.6 174.7,-41.3 175,-39.8 173.8,-39.3 174.7,-37.3 173.5,-35",
            "172.7,-40.5 174.3,-41.4 172.8,-43.6 170.5,-45.9 168.3,-46.6 166.5,-45.8 168.5,-44 171.2,-42.3"],
    "ISL": ["-24.3,65.6 -22,66.4 -18,66.2 -14.6,66.3 -13.6,65 -16.2,63.8 -19,63.4 -22.6,63.9 -22,64.5 -24,64.9"],
    "IRL": ["-10,54.2 -8.2,55.1 -7.3,55.2 -7.2,54.4 -6.2,54 -6,52.5 -8.5,51.7 -10,51.8 -9.3,53.2"],
    "GBR": ["-7.3,55.2 -5.7,54.9 -5.5,54.4 -6.2,54 -7.2,54.4",
            "-5,58.6 -3,58.6 -4,57.6 -2,57.6 -2.2,56 -1.5,55 -0.2,54.4 0.1,53.5 1.7,52.7 1.4,51.3 -1.2,50.7 -3.5,50.3 -5.7,50 -3,51.3 -5,51.7 -4.2,52.3 -4.6,53.3 -3,53.4 -3.5,54.9 -5,54.8 -5.3,56 -6.2,57.4"],
    "FRA": ["-1.8,43.4 -1.1,46 -4.7,48.4 -1.5,48.7 -1.8,49.7 1.5,50.2 2.5,51.1 4.2,50 5.8,49.5 8.2,49 7.6,47.6 6,46.3 7,45.9 6.9,44.4 7.5,43.8 6,43.1 3,43.2 3.2,42.4 0.7,42.8",
            "8.6,42.3 9.5,43 9.5,41.9 9.2,41.4"],
    "ITA": ["6.9,44.4 7,45.9 8.5,46.2 10.5,46.8 12.2,47.1 13.7,46.5 13.8,45.6 12.3,45.3 12.4,44.3 14,42.5 16,41.9 18.5,40.2 16.9,40.4 17,39 16,38 15.7,38.1 16,39.7 15.6,40.1 12.4,41.6 10.3,43 8.8,44.4 7.5,43.8",
            "12.4,38 15.6,38.2 15.1,36.7 12.5,37.6",
            "8.2,40.8 9.7,41 9.6,39.1 8.5,39"],
    "CHE": ["6,46.3 7.6,47.6 9.6,47.5 10.5,46.8 8.5,46.2 7,45.9"],
    "AUT": ["9.6,47.5 13,47.5 13,48.6 16.9,48.6 16.2,47.5 16.5,46.9 13.7,46.5 12.2,47.1 10.5,46.8"],
    "DEU": ["6,51 7,51.9 7,53.5 8.8,54 8.3,55 9.5,54.8 11,54 14.1,53.9 14.6,51 12,50.3 13.5,48.7 13,47.5 9.6,47.5 7.6,47.6 8.2,49 6.3,49.7 5.9,50.7"],
    "BEL": ["2.5,51.1 3.6,51.4 4.8,51.4 5.9,50.7 6.1,50 5.8,49.5 4.2,50"],
    "LUX": ["5.8,49.5 6.3,49.7 6.1,50.1"],
    "NLD": ["3.4,51.4 4.8,53 7,53.3 7,51.9 6,51 5.9,50.7 4.8,51.4"],
    "DNK": ["8.2,55 8.2,56.8 10.6,57.7 10.3,56 9.5,54.8", "11,55.7 12.6,56 12.2,55 11.2,55.2"],
    "ESP": ["-9.2,43.1 -1.8,43.4 0.7,42.8 3.2,42.4 0.7,40.5 -0.3,39.4 0,38.7 -2,36.9 -5.4,36.1 -6.4,36.9 -7.4,37.2 -7,39.6 -6.2,41.7 -8.2,42.1 -8.8,42"],
    "PRT": ["-8.8,41.9 -8.2,42.1 -6.2,41.7 -7,39.6 -7.4,37.2 -8.9,37 -9.5,38.7"],
    "NOR": ["4.9,61 5,62 10,64.2 14,67.8 19,70 25,71.1 31,70.3 29,69 26,70 23.5,68.7 20.6,69.1 18,68.5 14.5,66 12,61 12.5,60 11.2,59 9,58 5.6,58.8",
            "11,79.5 16,80 22,79.7 18,77.5 14,77.7", "19,80 27,80.3 24,79.2", "21,78.5 24,78.2 22,77.4"],
    "SWE": ["11.2,59 12.5,60 12,61 14.5,66 18,68.5 20.6,69.1 23.7,67.9 24,66 22,65.5 21.2,64 17.2,62 17.2,60.6 18.8,59.6 16.7,57.8 16,56.1 14.3,55.5 13,55.4 11.8,58"],
    "FIN": ["20.6,69.1 23.5,68.7 26,70 29,69 30,67.7 29.2,66.9 30,65 31.5,63 29.9,61.5 28,60.5 23,59.9 21.3,60.8 21.4,62.5 22,63.2 25.4,65.1 24,66 23.7,67.9"],
    "EST": ["23.5,59.2 28,59.5 27.5,57.6 25,57.9 24.4,58.4"],
    "LVA": ["21,56.8 22.5,57.7 24.4,57.3 24.4,58.4 25,57.9 27.5,57.6 28.2,56.2 26.5,55.7 25,56.3 21,56.1"],
    "LTU": ["21,56.1 25,56.3 26.5,55.7 26.6,55 25.8,54.2 23.5,54 22.8,54.3 22.7,55 21,55.2"],
    "POL": ["14.1,53.9 18.5,54.8 19.7,54.4 22.8,54.3 23.5,54 23.6,52.6 24,50.5 22.7,49.2 20.9,49.4 19,49.4 17,50.4 14.6,51"],
    "CZE": ["12,50.3 14.6,51 17,50.4 18.8,49.5 16.9,48.6 13,48.6"],
    "SVK": ["16.9,48.6 18.8,49.5 22.5,49.1 22.1,48.4 18.8,47.8 17.2,48"],
    "HUN": ["16.2,47.5 17.2,48 18.8,47.8 22.1,48.4 22.9,48 21,46.2 18.9,45.9 16.5,46.6"],
    "SVN": ["13.7,46.5 16.5,46.9 15.5,45.6 13.6,45.5"],
    "HRV": ["13.7,45.1 15.5,45.6 16.6,46.4 18.9,45.9 19,45 16,45.2 15.7,44 18.5,42.5 17,43 14.6,45.1"],
    "BIH": ["16,45.2 19,45 19.4,44 18.6,43 18.5,42.5 15.7,44"],
    "SRB": ["18.9,45.9 21,46.2 22.5,44.5 22.5,43.4 22.4,42.3 20.5,42 19.5,43.1 19.4,44 19,45"],
    "MNE": ["18.5,42.5 18.6,43 19.5,43.2 20.2,42.8 19.4,41.9"],
    "ALB": ["19.4,41.9 20.2,42.5 20.7,41 21,40.4 20,39.7 19.4,40.5"],
    "MKD": ["20.7,41 20.5,42 22.4,42.3 23,41.3"],
    "GRC": ["20,39.7 21,40.4 20.7,41 23,41.3 26.3,41.7 26,40.9 23.5,40.5 22.7,40.4 23,39.2 24,38 23,37.4 22.8,36.5 21.7,36.9 21.3,38.3",
            "23.5,35.5 26.3,35.3 24.7,34.9"],
    "BGR": ["22.5,44.2 27,44.1 28.6,43.6 27.7,42.5 28,42 26.3,41.7 23,41.3 22.4,42.3 22.5,43.4"],
    "ROU": ["21,46.2 22.9,48 26.6,48.3 28.2,46 28.2,45.5 29.7,45.1 28.6,43.7 27,44.1 22.5,44.2 22.5,44.5"],
    "UKR": ["22.1,48.4 22.7,49.2 24,50.5 24,51.6 30,51.4 31.8,52.1 33.8,52.3 35.5,50.4 40,49.5 39.7,47.8 38.3,47.1 35,46.2 33.6,46 31.5,46.6 30,45.8 29.7,45.1 28.2,45.5 28.9,46 30.1,46.4 29.2,47.9 26.6,48.3 22.9,48"],
    "MDA": ["26.6,48.3 29.2,47.9 30.1,46.4 28.9,46 28.2,45.5 28.2,46"],
    "BLR": ["23.6,52.6 23.5,54 25.8,54.2 26.6,55 28.2,56.2 30.8,55.6 31,54.8 32.7,53.4 31,53 31.8,52.1 30,51.4 24,51.6"],
}

color_of = {code: c for label, c in zip(bin_labels, bin_colors) for code in bin_members[label]}


def ring_xy(ring):
    pts = [p.split(",") for p in ring.split()]
    xs = [float(p[0]) for p in pts]
    ys = [float(p[1]) for p in pts]
    return xs + [xs[0], None], ys + [ys[0], None]


fig = go.Figure()

for code, rings in outlines.items():
    lons, lats = [], []
    for r in rings:
        xs, ys = ring_xy(r)
        lons += xs
        lats += ys
    fig.add_trace(go.Scatter(x=lons, y=lats, mode="lines", fill="toself", fillcolor=color_of[code],
                             line=dict(color="rgba(255,255,255,0.8)", width=0.7),
                             hoverinfo="skip", showlegend=False))

# legend only traces
for label, c in zip(bin_labels, bin_colors):
    fig.add_trace(go.Scatter(x=[None], y=[None], mode="markers", name=label,
                             marker=dict(color=c, size=16)))

fig.update_layout(
    width=2000,
    height=843,
    margin=dict(l=0, r=0, t=0, b=0),
    paper_bgcolor="white",
    plot_bgcolor="white",
    font=dict(family="DejaVu Sans", color="#262626"),
    xaxis=dict(visible=False, range=[-200.46, 200.66]),
    yaxis=dict(visible=False, range=[-64.98, 104.09]),
    legend=dict(x=1759 / 2000, y=1 - 76 / 843, xanchor="left", yanchor="top",
                bgcolor="rgba(255,255,255,0.8)", bordercolor="#d0d0d0", borderwidth=1,
                font=dict(size=17, color="#262626"), itemwidth=48),
    annotations=[
        dict(text=title, x=0.5, y=1 - 28 / 843, xref="paper", yref="paper", showarrow=False,
             yanchor="middle", font=dict(size=38.5, color="black")),
        dict(text=source, x=0.5, y=1 - 812 / 843, xref="paper", yref="paper", showarrow=False,
             yanchor="middle", font=dict(size=17.5, color="black")),
    ],
)

fig.write_html("out.html", post_script="document.body.style.margin='0';",
               config=dict(displayModeBar=False))
